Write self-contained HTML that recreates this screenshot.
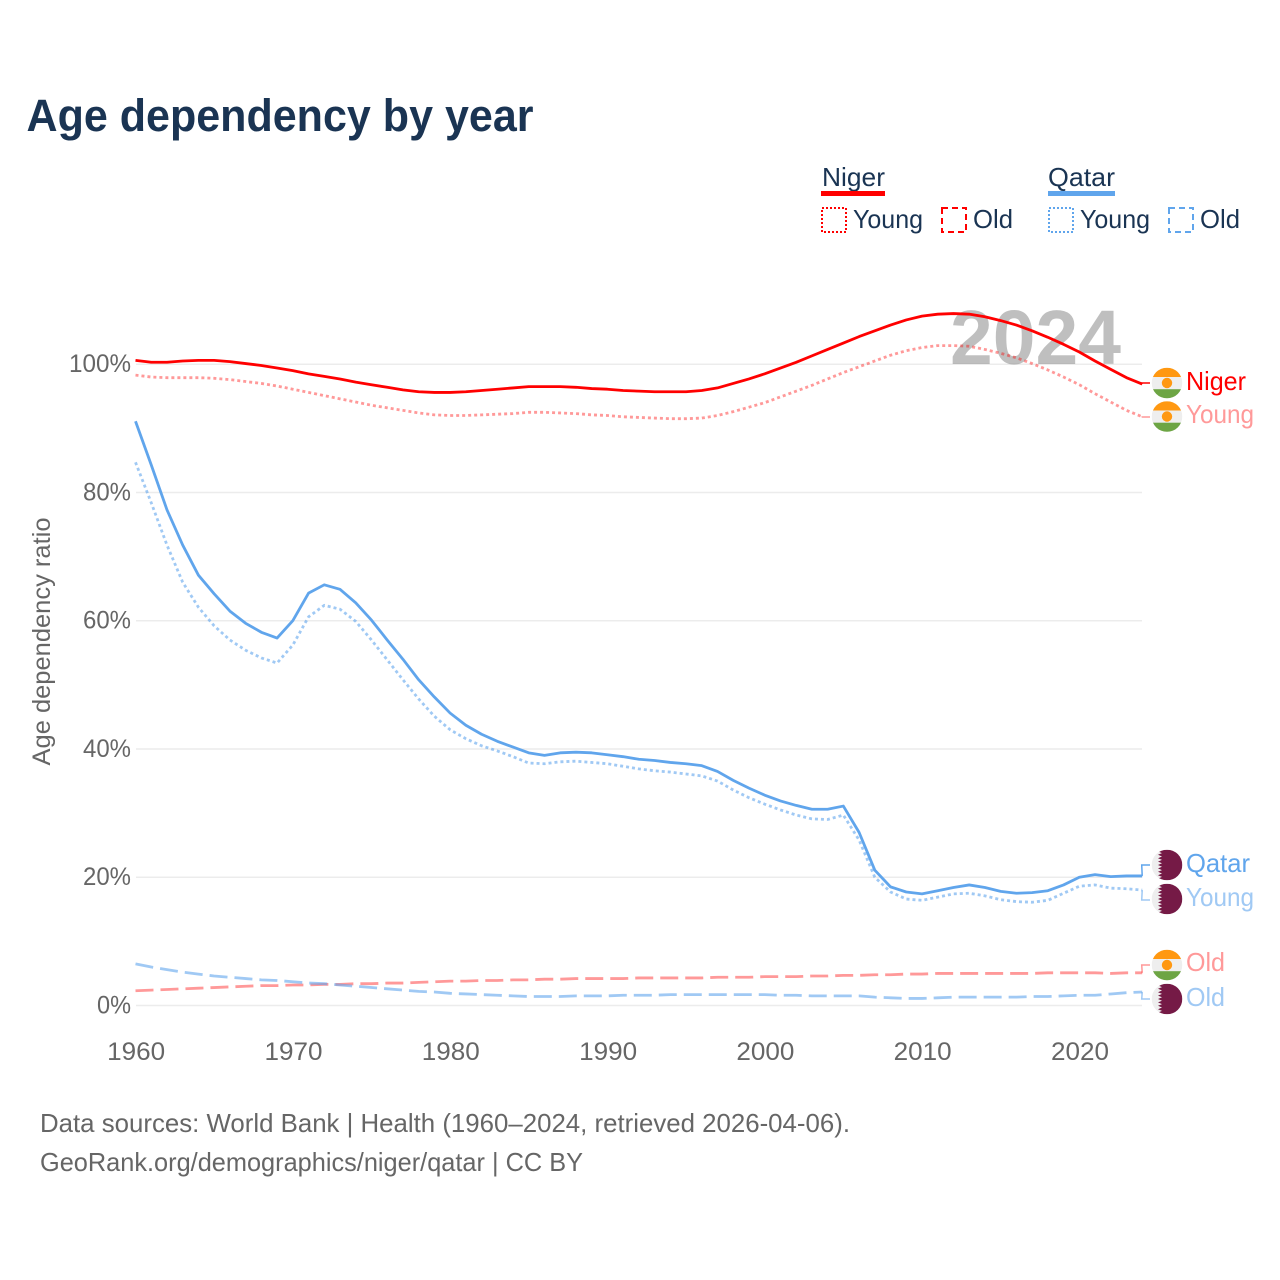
<!DOCTYPE html>
<html lang="en">
<head>
<meta charset="utf-8">
<title>Age dependency by year</title>
<style>
html,body{margin:0;padding:0;background:#fff;}
svg{display:block;font-family:"Liberation Sans",sans-serif;}
</style>
</head>
<body>
<svg id="chart" width="1280" height="1280" viewBox="0 0 1280 1280" xmlns="http://www.w3.org/2000/svg">
  <text x="26.5" y="131" font-size="45" font-weight="bold" fill="#1a3453" textLength="507" lengthAdjust="spacingAndGlyphs">Age dependency by year</text>

  <g fill="#1a3453" font-size="26">
    <text x="822" y="186" textLength="63" lengthAdjust="spacingAndGlyphs">Niger</text>
    <rect x="821" y="191" width="64" height="5" fill="#ff0000"/>
    <rect x="822" y="208" width="24" height="24" fill="none" stroke="#ff0000" stroke-width="2" stroke-dasharray="2 2"/>
    <text x="853" y="228" textLength="70" lengthAdjust="spacingAndGlyphs">Young</text>
    <rect x="942" y="208" width="24" height="24" fill="none" stroke="#ff0000" stroke-width="2" stroke-dasharray="6 4"/>
    <text x="973" y="228" textLength="40" lengthAdjust="spacingAndGlyphs">Old</text>
    <text x="1048" y="186" textLength="67" lengthAdjust="spacingAndGlyphs">Qatar</text>
    <rect x="1048" y="191" width="67" height="5" fill="#60a5ec"/>
    <rect x="1049" y="208" width="24" height="24" fill="none" stroke="#60a5ec" stroke-width="2" stroke-dasharray="2 2"/>
    <text x="1080" y="228" textLength="70" lengthAdjust="spacingAndGlyphs">Young</text>
    <rect x="1169" y="208" width="24" height="24" fill="none" stroke="#60a5ec" stroke-width="2" stroke-dasharray="6 4"/>
    <text x="1200" y="228" textLength="40" lengthAdjust="spacingAndGlyphs">Old</text>
  </g>

  <g id="grid"></g>
  <text x="950" y="364" font-size="77" font-weight="bold" fill="#000" fill-opacity="0.25" textLength="171" lengthAdjust="spacingAndGlyphs">2024</text>
  <g id="series"></g>
  <g id="end-labels"></g>
  <g id="axes"></g>

  <text transform="translate(50,641.5) rotate(-90)" text-anchor="middle" font-size="25" fill="#666" textLength="248" lengthAdjust="spacingAndGlyphs">Age dependency ratio</text>

  <text x="40" y="1132" font-size="26" fill="#666" textLength="810" lengthAdjust="spacingAndGlyphs">Data sources: World Bank | Health (1960–2024, retrieved 2026-04-06).</text>
  <text x="40" y="1171" font-size="26" fill="#666" textLength="543" lengthAdjust="spacingAndGlyphs">GeoRank.org/demographics/niger/qatar | CC BY</text>
</svg>
<script>
const startYear = 1960;
const xTicks = [1960, 1970, 1980, 1990, 2000, 2010, 2020];
const yTicks = [0, 20, 40, 60, 80, 100];

const nigerTotal = [100.6,100.3,100.3,100.5,100.6,100.6,100.4,100.1,99.8,99.4,
  99.0,98.5,98.1,97.7,97.2,96.8,96.4,96.0,95.7,95.6,
  95.6,95.7,95.9,96.1,96.3,96.5,96.5,96.5,96.4,96.2,
  96.1,95.9,95.8,95.7,95.7,95.7,95.9,96.3,97.0,97.7,
  98.5,99.4,100.3,101.3,102.3,103.3,104.3,105.2,106.1,106.9,
  107.5,107.8,107.9,107.8,107.4,106.8,106.1,105.2,104.2,103.1,
  101.9,100.5,99.2,97.9,96.9];
const nigerYoung = [98.3,98.0,97.9,97.9,97.9,97.8,97.6,97.3,97.0,96.6,
  96.1,95.6,95.1,94.6,94.1,93.6,93.2,92.8,92.4,92.1,
  92.0,92.0,92.1,92.2,92.3,92.5,92.5,92.4,92.3,92.1,
  92.0,91.8,91.7,91.6,91.5,91.5,91.6,92.0,92.6,93.3,
  94.0,94.9,95.8,96.7,97.7,98.7,99.6,100.5,101.4,102.1,
  102.6,102.9,102.9,102.8,102.3,101.7,101.0,100.1,99.1,98.0,
  96.8,95.4,94.1,92.8,91.8];
const nigerOld = [2.3,2.4,2.5,2.6,2.7,2.8,2.9,3.0,3.1,3.1,
  3.2,3.2,3.3,3.3,3.4,3.4,3.5,3.5,3.6,3.7,
  3.8,3.8,3.9,3.9,4.0,4.0,4.1,4.1,4.2,4.2,
  4.2,4.2,4.3,4.3,4.3,4.3,4.3,4.4,4.4,4.4,
  4.5,4.5,4.5,4.6,4.6,4.7,4.7,4.8,4.8,4.9,
  4.9,5.0,5.0,5.0,5.0,5.0,5.0,5.0,5.1,5.1,
  5.1,5.1,5.0,5.1,5.1];
const qatarTotal = [91.1,84.3,77.3,71.8,67.1,64.2,61.5,59.6,58.2,57.3,
  60.0,64.3,65.6,64.9,62.8,60.1,57.0,54.0,50.8,48.1,
  45.6,43.7,42.3,41.2,40.3,39.4,39.0,39.4,39.5,39.4,
  39.1,38.8,38.4,38.2,37.9,37.7,37.4,36.5,35.1,33.9,
  32.8,31.9,31.2,30.6,30.6,31.1,27.0,21.1,18.5,17.7,
  17.4,17.9,18.4,18.8,18.4,17.8,17.5,17.6,17.9,18.8,
  20.0,20.4,20.1,20.2,20.2];
const qatarYoung = [84.7,78.4,71.8,66.0,62.1,59.2,57.0,55.4,54.2,53.4,
  56.2,60.6,62.4,61.8,59.9,57.0,53.9,50.8,47.8,45.1,
  43.0,41.6,40.5,39.7,38.8,37.8,37.7,38.0,38.1,37.9,
  37.7,37.3,36.9,36.6,36.4,36.1,35.8,35.0,33.6,32.4,
  31.4,30.5,29.7,29.1,29.0,29.7,25.8,20.0,17.7,16.6,
  16.4,16.9,17.4,17.5,17.1,16.5,16.2,16.1,16.4,17.5,
  18.6,18.8,18.3,18.2,18.0];
const qatarOld = [6.5,6.0,5.6,5.2,4.9,4.6,4.4,4.2,4.0,3.9,
  3.7,3.5,3.4,3.2,3.0,2.8,2.6,2.4,2.2,2.1,
  1.9,1.8,1.7,1.6,1.5,1.4,1.4,1.4,1.5,1.5,
  1.5,1.6,1.6,1.6,1.7,1.7,1.7,1.7,1.7,1.7,
  1.7,1.6,1.6,1.5,1.5,1.5,1.5,1.3,1.2,1.1,
  1.1,1.2,1.3,1.3,1.3,1.3,1.3,1.4,1.4,1.5,
  1.6,1.6,1.8,2.0,2.1];

const NS = 'http://www.w3.org/2000/svg';
const RED = '#ff0000';
const BLUE = '#60a5ec';
const xAxis = function (year) { return 135.5 + (year - 1960) * 15.73; };
const yAxis = function (value) { return 1005.5 - value * 6.413; };

function make(tag, attrs, parent) {
  const el = document.createElementNS(NS, tag);
  Object.keys(attrs).forEach(function (k) { el.setAttribute(k, attrs[k]); });
  parent.appendChild(el);
  return el;
}

const grid = document.getElementById('grid');
const axes = document.getElementById('axes');
yTicks.forEach(function (t) {
  const line = make('line', { x1: 136, x2: 1142, y1: yAxis(t), y2: yAxis(t), stroke: '#ececec', 'stroke-width': 1.5 }, grid);
  
  
  const label = make('text', { x: 131, y: yAxis(t) + 8, 'text-anchor': 'end', 'font-size': 25, fill: '#666', textLength: t === 100 ? 62 : (t === 0 ? 34 : 48), lengthAdjust: 'spacingAndGlyphs' }, axes);
  
  
  label.textContent = t + '%';
});
xTicks.forEach(function (t) {
  const label = make('text', { x: xAxis(t) + 0.7, y: 1060, 'text-anchor': 'middle', 'font-size': 25, fill: '#666', textLength: 58, lengthAdjust: 'spacingAndGlyphs' }, axes);
  
  
  label.textContent = t;
});

const series = document.getElementById('series');
function drawSeries(values, color, opacity, width, dash, name, labelY) {
  const pts = values.map(function (v, i) { return xAxis(startYear + i).toFixed(2) + ',' + yAxis(v).toFixed(2); });
  const endX = xAxis(startYear + values.length - 1);
  const endY = yAxis(values[values.length - 1]);
  const line = make('polyline', { points: pts.join(' '), fill: 'none', stroke: color, 'stroke-opacity': opacity, 'stroke-width': width, 'stroke-linejoin': 'round' }, series);
  if (dash) { line.setAttribute('stroke-dasharray', dash); }
  
  
  const leader = make('polyline', { points: endX + ',' + endY + ' ' + (endX - 0.5) + ',' + labelY + ' 1150,' + labelY, fill: 'none', stroke: color, 'stroke-opacity': opacity, 'stroke-width': 1.5 }, series);
  
  
}
drawSeries(nigerYoung, RED, 0.4, 2.8, '3 3', 'line-niger-young', 417);
drawSeries(nigerOld, RED, 0.4, 2.8, '18 7', 'line-niger-old', 965);
drawSeries(qatarYoung, BLUE, 0.6, 2.8, '3 3', 'line-qatar-young', 900);
drawSeries(qatarOld, BLUE, 0.6, 2.8, '18 7', 'line-qatar-old', 999);
drawSeries(qatarTotal, BLUE, 1, 2.8, '', 'line-qatar-total', 865);
drawSeries(nigerTotal, RED, 1, 2.8, '', 'line-niger-total', 383);

const defs = make('defs', {}, document.getElementById('chart'));
let clipCount = 0;
const labelsGroup = document.getElementById('end-labels');

function drawFlag(kind, cy, name) {
  const cx = 1167;
  const r = 15.3;
  clipCount += 1;
  const clip = make('clipPath', { id: 'flag-clip-' + clipCount }, defs);
  make('circle', { cx: cx, cy: cy, r: r }, clip);
  const g = make('g', { 'clip-path': 'url(#flag-clip-' + clipCount + ')' }, labelsGroup);
  
  
  make('rect', { x: cx - r, y: cy - r, width: 2 * r, height: 2 * r, fill: '#eeeeee' }, g);
  if (kind === 'niger') {
    make('rect', { x: cx - r, y: cy - r, width: 2 * r, height: r - 6, fill: '#ff9811' }, g);
    make('rect', { x: cx - r, y: cy + 6.2, width: 2 * r, height: r - 6, fill: '#6da544' }, g);
    make('circle', { cx: cx, cy: cy, r: 5.2, fill: '#ff9811' }, g);
  } else {
    const teeth = 9;
    const h = 2 * r / teeth;
    const pts = [(cx + r) + ',' + (cy - r)];
    for (let i = 0; i < teeth; i++) {
      const top = cy - r + i * h;
      pts.push((cx - 5) + ',' + top);
      pts.push((cx - 9) + ',' + (top + h / 2));
    }
    pts.push((cx - 5) + ',' + (cy + r));
    pts.push((cx + r) + ',' + (cy + r));
    make('polygon', { points: pts.join(' '), fill: '#751a46' }, g);
  }
}

function drawEndLabel(text, y, color, width, name) {
  const t = make('text', { x: 1186, y: y, 'font-size': 26, fill: color, textLength: width, lengthAdjust: 'spacingAndGlyphs' }, labelsGroup);
  
  
  t.textContent = text;
}

drawFlag('niger', 383, 'flag-niger-total');
drawEndLabel('Niger', 390, RED, 60, 'end-label-niger');
drawFlag('niger', 416.5, 'flag-niger-young');
drawEndLabel('Young', 423, '#ff9999', 68, 'end-label-niger-young');
drawFlag('qatar', 865, 'flag-qatar-total');
drawEndLabel('Qatar', 872, BLUE, 64, 'end-label-qatar');
drawFlag('qatar', 899, 'flag-qatar-young');
drawEndLabel('Young', 906, '#a0c9f4', 68, 'end-label-qatar-young');
drawFlag('niger', 965, 'flag-niger-old');
drawEndLabel('Old', 971, '#ff9999', 39, 'end-label-niger-old');
drawFlag('qatar', 999, 'flag-qatar-old');
drawEndLabel('Old', 1006, '#a0c9f4', 39, 'end-label-qatar-old');
</script>
</body>
</html>
